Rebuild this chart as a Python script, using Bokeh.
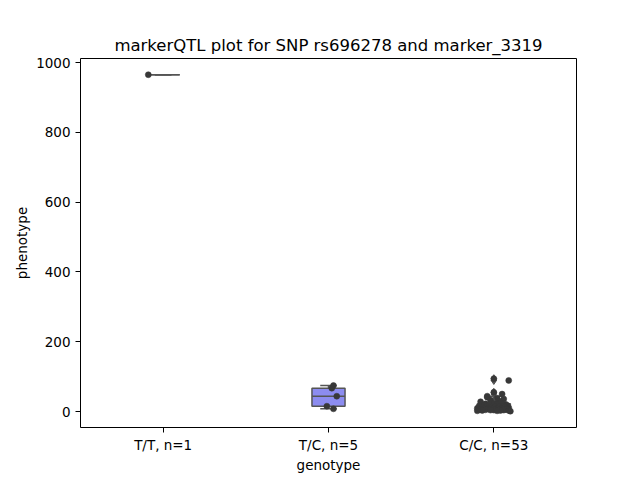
import numpy as np
from bokeh.plotting import figure
from bokeh.models import Range1d, FixedTicker, ColumnDataSource
from bokeh.embed import file_html
from bokeh.resources import INLINE

# ---- data ----
categories = ["T/T, n=1", "T/C, n=5", "C/C, n=53"]
tt_values = [965]
tc_values = [74.5, 66.8, 43.8, 15.2, 7.7]
cc_values = [94, 89, 55, 50, 44, 41, 38, 36, 33, 30,
             28, 26, 24, 22, 21, 20, 19, 18, 17, 16,
             15, 14, 14, 13, 12, 12, 11, 11, 10, 10,
             9, 9, 8, 8, 8, 7, 7, 7, 6, 6,
             6, 5, 5, 5, 4, 4, 4, 3, 3, 3,
             2, 2, 1]
# strip-plot jitter offsets
tt_jitter = [-0.09]
tc_jitter = [0.03, 0.02, 0.05, -0.01, 0.03]
cc_jitter = [0.0, 0.09, 0.0, 0.05, -0.04, -0.04, 0.02, 0.06, -0.02, 0.03,
             -0.08, 0.04, 0.0, -0.05, 0.07, 0.02, -0.03, 0.08, -0.06, 0.01,
             0.05, -0.09, 0.03, -0.02, 0.07, -0.07, 0.0, 0.09, -0.04, 0.04,
             -0.1, 0.06, -0.01, 0.02, -0.06, 0.08, -0.03, 0.05, -0.08, 0.01,
             0.07, -0.05, 0.03, -0.09, 0.0, 0.06, -0.02, 0.09, -0.07, 0.04,
             -0.1, 0.02, 0.1]
groups = [tt_values, tc_values, cc_values]
jitters = [tt_jitter, tc_jitter, cc_jitter]

Y_MIN, Y_MAX = -45.8, 1011.5
BOX_W = 0.2
EDGE = "#555555"
FILL = "#8c8cf0"
PT = "#383838"

p = figure(width=624, height=475, output_backend="svg", toolbar_location=None,
           x_range=Range1d(-0.5, 2.5), y_range=Range1d(Y_MIN, Y_MAX),
           title="markerQTL plot for SNP rs696278 and marker_3319",
           min_border_left=80, min_border_right=48, min_border_top=58, min_border_bottom=48)

p.xgrid.visible = False
p.ygrid.visible = False
p.outline_line_color = "black"
p.outline_line_alpha = 1.0
p.outline_line_width = 1
p.background_fill_color = "white"
p.border_fill_color = "white"

p.title.align = "center"
p.title.text_font = "DejaVu Sans"
p.title.text_font_size = "16.5px"
p.title.text_font_style = "normal"
p.title.text_color = "black"
p.title.standoff = 7

for ax in (p.xaxis[0], p.yaxis[0]):
    ax.axis_label_text_font = "DejaVu Sans"
    ax.axis_label_text_font_size = "13.5px"
    ax.axis_label_text_font_style = "normal"
    ax.axis_label_text_color = "black"
    ax.major_label_text_font = "DejaVu Sans"
    ax.major_label_text_font_size = "13.5px"
    ax.major_label_text_color = "black"
    ax.major_tick_out = 5
    ax.major_tick_in = 0
    ax.minor_tick_line_color = None
    ax.axis_line_color = None
    ax.major_tick_line_color = "black"

p.xaxis.axis_label = "genotype"
p.yaxis.axis_label = "phenotype"
p.xaxis.ticker = FixedTicker(ticks=[0, 1, 2])
p.xaxis.major_label_overrides = {0: categories[0], 1: categories[1], 2: categories[2]}
p.yaxis.ticker = FixedTicker(ticks=[0, 200, 400, 600, 800, 1000])
p.xaxis.major_label_standoff = 4
p.xaxis.axis_label_standoff = 1
p.yaxis.major_label_standoff = 5
p.yaxis.axis_label_standoff = 3

# box plots
for i, vals in enumerate(groups):
    v = np.array(vals, dtype=float)
    q1, med, q3 = np.percentile(v, [25, 50, 75])
    iqr = q3 - q1
    lo_f, hi_f = q1 - 1.5 * iqr, q3 + 1.5 * iqr
    inside = v[(v >= lo_f) & (v <= hi_f)]
    wlo, whi = inside.min(), inside.max()
    out = v[(v < lo_f) | (v > hi_f)]
    p.segment(x0=[i, i], y0=[q3, q1], x1=[i, i], y1=[whi, wlo],
              line_color=EDGE, line_width=1.5)
    p.segment(x0=[i - BOX_W / 4] * 2, y0=[whi, wlo], x1=[i + BOX_W / 4] * 2, y1=[whi, wlo],
              line_color=EDGE, line_width=1.5)
    p.quad(left=[i - BOX_W / 2], right=[i + BOX_W / 2], bottom=[q1], top=[q3],
           fill_color=FILL, line_color=EDGE, line_width=1.5)
    p.segment(x0=[i - BOX_W / 2], y0=[med], x1=[i + BOX_W / 2], y1=[med],
              line_color=EDGE, line_width=1.5)
    if len(out):
        p.scatter(x=[i] * len(out), y=out, marker="diamond", size=8,
                  fill_color=EDGE, line_color=EDGE)

# strip plot
for i, (vals, jit) in enumerate(zip(groups, jitters)):
    src = ColumnDataSource(dict(x=[i + j for j in jit], y=vals))
    p.scatter("x", "y", source=src, size=6, fill_color=PT, line_color=PT, line_width=0.5)

open("out.html", "w").write(file_html(p, INLINE))
